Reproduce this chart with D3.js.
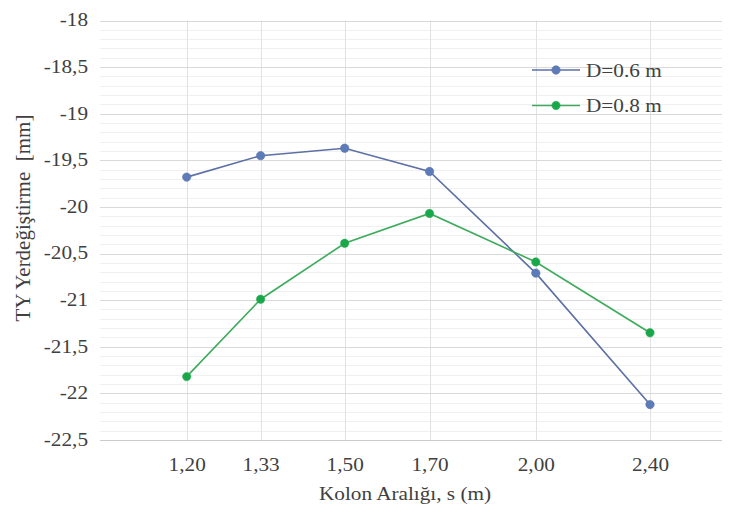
<!DOCTYPE html>
<html>
<head>
<meta charset="utf-8">
<script src="https://cdn.jsdelivr.net/npm/d3@7"></script>
</head>
<body style="margin:0; background:#fff">
<svg id="chart" width="734" height="520" style="display:block"></svg>
<script>
// Column spacing s (m)
const spacing = [1.20, 1.33, 1.50, 1.70, 2.00, 2.40];
// Vertical displacement (mm) for each pile diameter
const seriesD06 = [-19.68, -19.45, -19.37, -19.62, -20.71, -22.12];
const seriesD08 = [-21.82, -20.99, -20.39, -20.07, -20.59, -21.35];
const seriesNames = ["D=0.6 m", "D=0.8 m"];
const yTicks = [-18, -18.5, -19, -19.5, -20, -20.5, -21, -21.5, -22, -22.5];
const xTitle = "Kolon Aralığı, s (m)";
const yTitle = "TY Yerdeğiştirme  [mm]";

const plot = { left: 100, right: 722, top: 20.5, bottom: 440 };
const SX = 1.18;           // horizontal widening of the serif labels
const FONT = '"Liberation Serif"';
const textColor = "#404040";
const colors = [
  { line: "#5c70a6", dot: "#5b7cb8" },
  { line: "#3eab5c", dot: "#17a84b" }
];

const svg = d3.select("#chart");

const y = d3.scaleLinear().domain([-22.5, -18]).range([plot.bottom, plot.top]);
// spacing axis is progressively compressed toward larger s
const x = d3.scalePow().exponent(-0.25).domain([1.2, 2.4]).range([186.7, 650]);

const comma = s => s.replace(".", ",");
const crisp = v => Math.round(v) + 0.5;

// minor horizontal grid (every 0.1 mm)
const minor = d3.range(-224, -180).filter(v => v % 5 !== 0).map(v => v / 10);
svg.append("g").selectAll("line").data(minor).join("line")
  .attr("x1", plot.left).attr("x2", plot.right)
  .attr("y1", d => crisp(y(d))).attr("y2", d => crisp(y(d)))
  .attr("stroke", "#f0f0f0").attr("stroke-width", 1);

// vertical grid at each spacing
svg.append("g").selectAll("line").data(spacing).join("line")
  .attr("x1", d => crisp(x(d))).attr("x2", d => crisp(x(d)))
  .attr("y1", plot.top).attr("y2", plot.bottom)
  .attr("stroke", "#e2e2e2").attr("stroke-width", 1);

// major horizontal grid
svg.append("g").selectAll("line").data(yTicks.slice(0, -1)).join("line")
  .attr("x1", plot.left).attr("x2", plot.right)
  .attr("y1", d => crisp(y(d))).attr("y2", d => crisp(y(d)))
  .attr("stroke", "#d9d9d9").attr("stroke-width", 1);

// bottom axis line
svg.append("line")
  .attr("x1", plot.left).attr("x2", plot.right)
  .attr("y1", crisp(y(-22.5))).attr("y2", crisp(y(-22.5)))
  .attr("stroke", "#cbcbcb").attr("stroke-width", 1.2);

// y axis labels
const yAxis = svg.append("g").attr("transform", `translate(${plot.left},0)`)
  .call(d3.axisLeft(y).tickValues(yTicks).tickSize(0).tickPadding(0)
    .tickFormat(d => comma(String(d))));
yAxis.attr("font-family", null);
yAxis.select(".domain").remove();
yAxis.selectAll("text")
  .attr("x", -12 / SX).attr("dy", "0.3em")
  .attr("transform", `scale(${SX},1)`)
  .style("font-family", FONT).style("font-size", "18px").attr("fill", textColor);

// x axis labels
const xAxis = svg.append("g").attr("transform", `translate(0,${plot.bottom})`)
  .call(d3.axisBottom(x).tickValues(spacing).tickSize(0).tickPadding(0)
    .tickFormat(d => comma(d3.format(".2f")(d))));
xAxis.attr("font-family", null);
xAxis.select(".domain").remove();
xAxis.selectAll("text")
  .attr("y", 0).attr("dy", 31)
  .attr("transform", `scale(${SX},1)`)
  .style("font-family", FONT).style("font-size", "18px").attr("fill", textColor);

// axis titles
svg.append("g").attr("transform", `translate(${(plot.left + plot.right) / 2 - 6},500) scale(${SX},1)`)
  .append("text").attr("text-anchor", "middle")
  .style("font-family", FONT).style("font-size", "18px")
  .attr("fill", textColor).text(xTitle);

svg.append("text")
  .attr("transform", "translate(30,218) rotate(-90)")
  .attr("text-anchor", "middle")
  .style("font-family", FONT).style("font-size", "21px").style("white-space", "pre")
  .attr("fill", textColor).text(yTitle);

// series
const allSeries = [seriesD06, seriesD08];
const line = d3.line().x((d, i) => x(spacing[i])).y(d => y(d));
allSeries.forEach((vals, k) => {
  svg.append("path").datum(vals)
    .attr("d", line).attr("fill", "none")
    .attr("stroke", colors[k].line).attr("stroke-width", 1.6);
  svg.append("g").selectAll("circle").data(vals).join("circle")
    .attr("cx", (d, i) => x(spacing[i])).attr("cy", d => y(d))
    .attr("r", 4.2).attr("fill", colors[k].dot)
    .attr("stroke", colors[k].line).attr("stroke-width", 0.6);
});

// legend
const legend = svg.append("g").attr("transform", "translate(532,70)");
seriesNames.forEach((name, k) => {
  const g = legend.append("g").attr("transform", `translate(0,${k * 35.5})`);
  g.append("line").attr("x1", 0).attr("x2", 48).attr("y1", 0).attr("y2", 0)
    .attr("stroke", colors[k].line).attr("stroke-width", 1.6);
  g.append("circle").attr("cx", 24).attr("cy", 0).attr("r", 4.2)
    .attr("fill", colors[k].dot).attr("stroke", colors[k].line).attr("stroke-width", 0.6);
  g.append("g").attr("transform", `translate(54,6.5) scale(${SX},1)`)
    .append("text").style("font-family", FONT).style("font-size", "18px")
    .attr("fill", textColor).text(name);
});
</script>
</body>
</html>
